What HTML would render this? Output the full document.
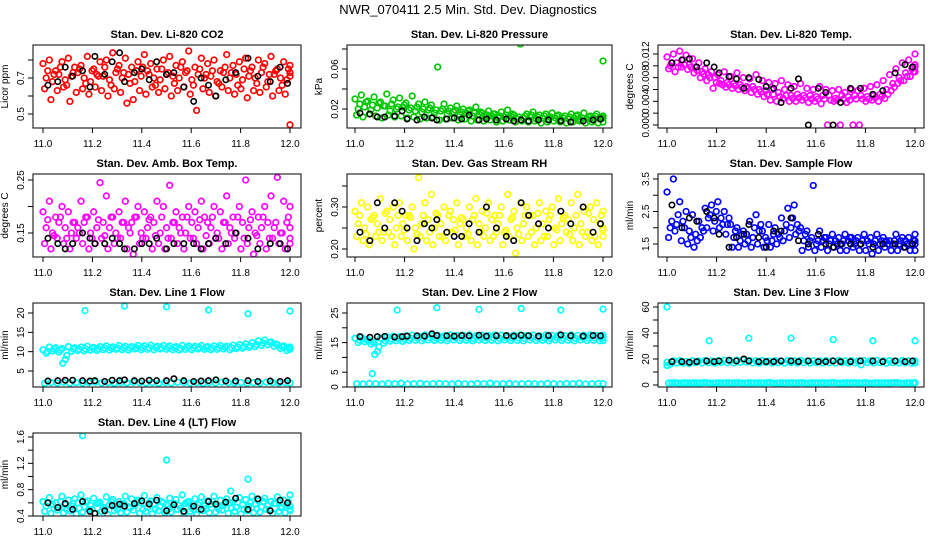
<!DOCTYPE html>
<html><head><meta charset="utf-8"><style>
body{margin:0;background:#fff;}
svg{display:block;font-family:"Liberation Sans",Arial,sans-serif;}
</style></head><body>
<svg id="chart" width="936" height="540" viewBox="0 0 936 540">
<text x="468" y="14" text-anchor="middle" font-size="13">NWR_070411  2.5 Min. Std. Dev. Diagnostics</text>
</svg>
<script>
const blackX = [11.02,11.06,11.09,11.12,11.16,11.19,11.21,11.25,11.28,11.31,11.33,11.37,11.40,11.43,11.46,11.50,11.53,11.57,11.61,11.64,11.67,11.70,11.74,11.78,11.83,11.87,11.92,11.96,11.99];
const xTicks = [11.0,11.2,11.4,11.6,11.8,12.0];
const xTickLabels = ["11.0","11.2","11.4","11.6","11.8","12.0"];

// Panel 1 CO2
const co2A = [0.78,0.80,0.74,0.79,0.81,0.76,0.77,0.82,0.75,0.79,0.80,0.84,0.77,0.81,0.76,0.79,0.83,0.78,0.75,0.80,0.82,0.77,0.79,0.85,0.76,0.81,0.78,0.80,0.74,0.83,0.77,0.79,0.81,0.76,0.80,0.78,0.82,0.75,0.79,0.77];
const co2B = [0.70,0.68,0.72,0.69,0.71,0.73,0.70,0.68,0.72,0.71,0.69,0.73,0.70,0.72,0.68,0.71,0.74,0.70,0.69,0.72,0.71,0.70,0.73,0.69,0.72,0.70,0.71,0.68,0.73,0.70,0.72,0.69,0.71,0.70,0.73,0.68,0.72,0.70,0.69,0.71];
const co2C = [0.64,0.58,0.63,0.65,0.57,0.62,0.64,0.61,0.65,0.63,0.60,0.64,0.62,0.56,0.58,0.63,0.61,0.65,0.62,0.64,0.60,0.63,0.65,0.61,0.52,0.64,0.62,0.60,0.65,0.63,0.61,0.64,0.59,0.63,0.62,0.65,0.60,0.63,0.61,0.44];
const co2D = [0.74,0.72,0.76,0.66,0.73,0.75,0.67,0.74,0.71,0.76,0.66,0.75,0.73,0.67,0.74,0.76,0.72,0.66,0.75,0.73,0.67,0.76,0.74,0.66,0.75,0.72,0.74,0.67,0.76,0.73,0.66,0.75,0.74,0.67,0.76,0.72,0.74,0.66,0.75,0.73];
const co2K = [0.66,0.68,0.76,0.71,0.74,0.65,0.82,0.72,0.79,0.84,0.68,0.73,0.75,0.69,0.79,0.72,0.73,0.65,0.57,0.70,0.66,0.60,0.69,0.73,0.81,0.71,0.68,0.76,0.67];
// Panel 2 Pressure
const presA = [0.030,0.034,0.028,0.032,0.027,0.035,0.029,0.031,0.026,0.033,0.025,0.027,0.024,0.062,0.025,0.021,0.023,0.020,0.019,0.022,0.016,0.018,0.015,0.017,0.019,0.014,0.085,0.015,0.017,0.014,0.015,0.016,0.014,0.013,0.015,0.014,0.016,0.013,0.015,0.068];
const presB = [0.020,0.022,0.019,0.021,0.023,0.018,0.020,0.022,0.019,0.018,0.017,0.019,0.016,0.018,0.015,0.017,0.014,0.016,0.013,0.015,0.012,0.013,0.011,0.012,0.013,0.010,0.011,0.012,0.010,0.011,0.010,0.011,0.009,0.010,0.011,0.009,0.010,0.011,0.010,0.011];
const presC = [0.014,0.012,0.015,0.013,0.011,0.014,0.012,0.013,0.011,0.012,0.010,0.011,0.012,0.009,0.010,0.011,0.009,0.010,0.008,0.009,0.008,0.009,0.007,0.008,0.009,0.007,0.008,0.007,0.008,0.006,0.007,0.008,0.007,0.006,0.007,0.008,0.006,0.007,0.006,0.007];
const presD = [0.025,0.027,0.024,0.026,0.023,0.025,0.022,0.024,0.021,0.022,0.020,0.021,0.019,0.020,0.018,0.019,0.017,0.018,0.016,0.017,0.014,0.015,0.013,0.014,0.015,0.012,0.013,0.014,0.012,0.013,0.012,0.013,0.011,0.012,0.013,0.011,0.012,0.013,0.012,0.013];
const presK = [0.016,0.015,0.012,0.012,0.013,0.018,0.010,0.009,0.012,0.011,0.009,0.010,0.011,0.010,0.014,0.009,0.010,0.009,0.010,0.008,0.009,0.008,0.009,0.009,0.008,0.007,0.008,0.009,0.010];
// Panel 3 Li-820 Temp
const ltA = [0.0115,0.012,0.0125,0.0118,0.0112,0.0105,0.0095,0.009,0.0085,0.009,0.0082,0.0088,0.008,0.0078,0.0085,0.0075,0.0072,0.007,0.0075,0.0068,0.0065,0.007,0.0062,0.006,0.0065,0.006,0.0058,0.006,0.0055,0.006,0.0058,0.0062,0.0065,0.0068,0.0075,0.0085,0.0095,0.0105,0.011,0.012];
const ltB = [0.010,0.0105,0.011,0.0102,0.0098,0.009,0.0085,0.008,0.0075,0.0072,0.007,0.0068,0.0065,0.0065,0.006,0.0058,0.006,0.0055,0.006,0.005,0.0052,0.005,0.005,0.0048,0.005,0.005,0.0045,0.005,0.0048,0.005,0.005,0.0048,0.005,0.0052,0.006,0.007,0.008,0.0088,0.0095,0.0102];
const ltC = [0.0095,0.009,0.0098,0.0094,0.0088,0.008,0.0075,0.0062,0.007,0.0064,0.0062,0.006,0.0058,0.0055,0.0052,0.0048,0.0042,0.004,0.0045,0.004,0.004,0.0042,0.0038,0.004,0.0036,0.0,0.004,0.0,0.0038,0.0,0.0,0.004,0.0042,0.004,0.0045,0.0058,0.007,0.0075,0.0082,0.009];
const ltD = [0.0105,0.0098,0.0102,0.0098,0.0092,0.0086,0.008,0.0072,0.0068,0.0068,0.0066,0.0064,0.0062,0.006,0.0056,0.0052,0.0052,0.0048,0.005,0.0045,0.0046,0.0046,0.0044,0.0044,0.0044,0.0042,0.0042,0.0044,0.0042,0.0044,0.0044,0.0044,0.0046,0.0048,0.0052,0.0064,0.0075,0.0082,0.009,0.0098];
const ltK = [0.0105,0.011,0.0112,0.0098,0.0105,0.0098,0.0088,0.0082,0.0078,0.0062,0.0080,0.0077,0.0065,0.0062,0.0038,0.0062,0.0078,0.0,0.0062,0.0055,0.0,0.0038,0.0062,0.0062,0.0052,0.0058,0.0088,0.0102,0.0098];
// Panel 4 Amb Box Temp
const abA = [0.19,0.21,0.18,0.20,0.19,0.17,0.21,0.18,0.19,0.245,0.22,0.18,0.19,0.21,0.17,0.20,0.19,0.18,0.21,0.20,0.24,0.19,0.18,0.20,0.19,0.21,0.17,0.20,0.19,0.22,0.18,0.20,0.25,0.19,0.18,0.20,0.22,0.255,0.21,0.20];
const abB = [0.16,0.15,0.17,0.16,0.15,0.16,0.17,0.15,0.16,0.17,0.16,0.15,0.17,0.16,0.18,0.15,0.16,0.17,0.15,0.16,0.17,0.16,0.15,0.17,0.16,0.18,0.16,0.15,0.17,0.16,0.15,0.17,0.16,0.15,0.16,0.17,0.16,0.15,0.17,0.16];
const abC = [0.13,0.12,0.14,0.13,0.12,0.14,0.13,0.12,0.13,0.14,0.12,0.13,0.14,0.12,0.11,0.13,0.14,0.12,0.13,0.12,0.14,0.13,0.12,0.14,0.13,0.12,0.13,0.14,0.12,0.13,0.14,0.12,0.13,0.11,0.13,0.12,0.14,0.13,0.12,0.13];
const abD = [0.175,0.145,0.18,0.14,0.17,0.15,0.18,0.14,0.175,0.145,0.18,0.14,0.17,0.15,0.18,0.14,0.175,0.145,0.18,0.14,0.17,0.15,0.18,0.14,0.175,0.145,0.18,0.14,0.17,0.15,0.18,0.14,0.175,0.145,0.18,0.14,0.17,0.15,0.18,0.14];
const abK = [0.14,0.13,0.12,0.13,0.15,0.14,0.13,0.13,0.14,0.13,0.12,0.12,0.13,0.13,0.14,0.12,0.13,0.13,0.13,0.12,0.13,0.14,0.13,0.15,0.14,0.12,0.13,0.13,0.12];
// Panel 5 RH
const rhA = [0.29,0.31,0.30,0.28,0.32,0.29,0.30,0.31,0.28,0.30,0.37,0.31,0.33,0.28,0.30,0.29,0.31,0.27,0.30,0.32,0.29,0.31,0.28,0.30,0.33,0.29,0.31,0.30,0.28,0.31,0.29,0.30,0.32,0.28,0.31,0.33,0.29,0.30,0.31,0.29];
const rhB = [0.26,0.25,0.27,0.26,0.24,0.27,0.25,0.26,0.28,0.25,0.26,0.27,0.25,0.26,0.24,0.27,0.26,0.25,0.27,0.26,0.25,0.27,0.26,0.24,0.27,0.25,0.26,0.28,0.25,0.26,0.27,0.25,0.26,0.27,0.25,0.26,0.24,0.27,0.26,0.25];
const rhC = [0.23,0.22,0.21,0.23,0.22,0.24,0.21,0.23,0.22,0.20,0.23,0.22,0.21,0.23,0.22,0.24,0.21,0.23,0.22,0.21,0.23,0.22,0.24,0.21,0.23,0.19,0.22,0.23,0.21,0.22,0.23,0.21,0.22,0.24,0.22,0.21,0.23,0.22,0.21,0.23];
const rhD = [0.28,0.235,0.275,0.24,0.285,0.23,0.28,0.245,0.275,0.235,0.28,0.24,0.285,0.23,0.28,0.245,0.275,0.235,0.28,0.24,0.285,0.23,0.28,0.245,0.275,0.235,0.28,0.24,0.285,0.23,0.28,0.245,0.275,0.235,0.28,0.24,0.285,0.23,0.28,0.245];
const rhK = [0.24,0.22,0.31,0.25,0.31,0.29,0.25,0.22,0.26,0.25,0.27,0.24,0.23,0.23,0.26,0.24,0.30,0.25,0.23,0.22,0.31,0.28,0.26,0.25,0.29,0.26,0.30,0.24,0.26];
// Panel 6 Sample Flow
const sfA = [3.1,3.5,2.8,2.5,2.4,2.2,2.6,2.7,2.8,2.5,2.1,2.0,1.9,2.2,2.4,1.9,2.1,2.0,2.3,2.6,2.7,2.0,1.9,3.3,1.9,1.7,1.8,1.7,1.8,1.7,1.7,1.8,1.7,1.8,1.7,1.6,1.8,1.7,1.7,1.8];
const sfB = [2.0,2.1,2.2,1.9,1.8,2.0,2.3,2.2,2.3,2.1,1.7,1.6,1.8,1.7,1.9,1.7,1.6,1.8,1.9,2.0,2.1,1.6,1.6,1.5,1.6,1.5,1.6,1.5,1.6,1.5,1.5,1.6,1.5,1.5,1.6,1.5,1.5,1.6,1.5,1.5];
const sfC = [1.7,1.9,1.6,1.5,1.4,1.7,2.0,1.9,2.0,1.8,1.4,1.4,1.5,1.4,1.5,1.4,1.4,1.5,1.6,1.7,1.8,1.3,1.4,1.3,1.4,1.3,1.4,1.3,1.3,1.4,1.3,1.3,1.2,1.3,1.4,1.3,1.3,1.4,1.3,1.3];
const sfD = [2.2,2.4,2.0,1.7,1.6,1.9,2.4,2.5,2.1,2.3,1.9,1.8,1.6,2.0,2.1,1.6,1.8,1.7,2.1,2.3,1.9,1.8,1.7,1.6,1.7,1.6,1.5,1.6,1.7,1.6,1.6,1.5,1.6,1.6,1.5,1.6,1.6,1.5,1.6,1.6];
const sfK = [2.7,2.0,2.3,2.2,2.5,2.3,1.8,1.4,1.7,1.8,2.1,1.7,1.4,1.9,1.9,2.3,1.6,1.5,1.8,1.5,1.4,1.5,1.5,1.5,1.4,1.5,1.5,1.4,1.5];
// Panel 7 Line 1 Flow
const l1A = [10.5,11.2,11.0,10.8,11.3,11.0,11.2,11.4,11.1,11.3,11.5,11.2,11.6,11.4,11.3,11.6,11.5,11.7,11.4,11.6,11.5,11.3,11.6,11.5,11.4,11.6,11.3,11.5,11.6,11.4,11.7,11.8,12.0,12.3,12.8,13.0,12.5,11.8,11.5,11.2];
const l1B = [9.6,10.2,9.9,8.0,10.1,10.3,10.2,10.4,10.3,10.5,10.4,10.6,10.5,10.4,10.7,10.5,10.6,10.5,10.7,10.6,10.5,10.4,10.6,10.5,10.7,10.6,10.5,10.6,10.7,10.5,10.8,10.9,11.1,11.3,11.6,11.8,11.4,10.8,10.3,10.6];
const l1C = [1.8,2.0,1.9,2.1,1.8,2.0,1.9,2.0,2.1,1.9,2.0,1.8,2.0,1.9,2.1,2.0,1.9,2.0,1.8,2.0,1.9,2.1,2.0,1.9,2.0,1.8,2.0,1.9,2.1,2.0,1.9,2.0,1.8,2.0,1.9,2.1,2.0,1.9,2.0,1.9];
const l1D = [10.0,10.7,10.4,9.0,10.7,10.6,10.7,10.9,10.7,10.9,10.9,10.9,11.0,10.9,11.0,11.0,11.0,11.1,11.0,11.1,11.0,10.8,11.1,11.0,11.0,11.1,10.9,11.0,11.1,11.0,11.2,11.3,11.5,11.8,12.2,12.4,12.0,11.3,10.9,10.9];
const l1K = [2.4,2.5,2.6,2.6,2.5,2.4,2.5,2.3,2.6,2.5,2.7,2.5,2.4,2.6,2.5,2.5,3.0,2.5,2.3,2.4,2.5,2.7,2.4,2.4,2.5,2.3,2.4,2.3,2.5];
const l1OutX = [11.08,11.17,11.33,11.5,11.67,11.83,12.0];
const l1OutY = [7.0,20.6,21.8,21.6,20.8,19.8,20.5];
// Panel 8 Line 2 Flow
const l2A = [16.5,16.8,16.0,15.0,16.5,17.0,17.2,17.0,17.3,17.5,17.2,17.6,17.4,17.5,17.3,17.6,17.4,17.5,17.6,17.3,17.5,17.4,17.6,17.5,17.3,17.5,17.6,17.4,17.5,17.3,17.6,17.4,17.5,17.3,17.6,17.4,17.5,17.6,17.4,17.5];
const l2B = [15.0,15.3,14.5,12.0,14.8,15.5,15.6,15.4,15.7,15.8,15.6,15.9,15.7,15.8,15.6,15.9,15.7,15.8,15.6,15.9,15.7,15.8,15.6,15.9,15.7,15.8,15.6,15.9,15.7,15.8,15.6,15.9,15.7,15.8,15.6,15.9,15.7,15.8,15.6,15.7];
const l2C = [1.1,1.0,1.2,1.1,1.0,1.2,1.1,1.3,1.0,1.1,1.2,1.0,1.1,1.2,1.1,1.0,1.2,1.1,1.0,1.2,1.1,1.3,1.0,1.1,1.2,1.0,1.1,1.2,1.1,1.0,1.2,1.1,1.0,1.2,1.1,1.3,1.0,1.1,1.2,1.1];
const l2D = [15.8,16.0,15.2,13.5,15.6,16.2,16.4,16.2,16.5,16.6,16.4,16.7,16.5,16.6,16.4,16.7,16.5,16.6,16.4,16.7,16.5,16.6,16.4,16.7,16.5,16.6,16.4,16.7,16.5,16.6,16.4,16.7,16.5,16.6,16.4,16.7,16.5,16.6,16.4,16.6];
const l2K = [17.0,16.8,17.0,17.1,16.9,17.0,17.2,17.3,17.2,18.0,17.4,17.3,17.2,17.4,17.3,17.5,17.2,17.3,17.4,17.2,17.5,17.3,17.2,17.4,17.6,17.3,17.2,17.4,17.3];
const l2OutX = [11.07,11.08,11.17,11.33,11.5,11.67,11.83,12.0];
const l2OutY = [4.5,11.0,26.0,26.8,26.2,26.5,26.0,26.3];
// Panel 9 Line 3 Flow
const l3A = [17.5,18.5,18.8,18.2,18.6,18.4,18.9,18.5,18.7,19.0,18.6,19.2,19.5,18.8,18.6,18.9,18.5,18.7,18.4,18.8,18.6,18.9,18.5,18.7,18.4,18.8,18.6,18.9,18.5,18.7,18.4,18.8,18.6,18.9,18.5,18.7,18.4,18.8,18.6,18.5];
const l3B = [16.0,17.0,16.8,16.5,17.2,16.9,17.1,16.8,17.3,17.0,16.9,17.4,17.6,17.0,16.8,17.2,16.9,17.1,16.8,17.2,16.9,17.1,16.8,17.2,16.9,17.1,16.8,17.2,16.9,17.1,15.5,17.2,16.9,17.1,16.8,17.2,16.9,17.1,16.8,17.0];
const l3C = [1.5,1.8,1.4,1.6,1.7,1.5,1.8,1.4,1.6,1.7,1.5,1.8,1.4,1.6,1.7,1.5,1.8,1.4,1.6,1.7,1.5,1.8,1.4,1.6,1.7,1.5,1.8,1.4,1.6,1.7,1.5,1.8,1.4,1.6,1.7,1.5,1.8,1.4,1.6,1.7];
const l3D = [1.6,1.4,1.7,1.5,1.6,1.8,1.4,1.6,1.5,1.7,1.6,1.4,1.7,1.5,1.6,1.8,1.4,1.6,1.5,1.7,1.6,1.4,1.7,1.5,1.6,1.8,1.4,1.6,1.5,1.7,1.6,1.4,1.7,1.5,1.6,1.8,1.4,1.6,1.5,1.7];
const l3K = [18,18,17.5,18,18.5,18,18.5,19,18.5,20,18.5,18,18,18,18.5,18.5,18,18.5,18,18,18.5,18,18,18.5,18.5,18,18.5,18,18.5];
const l3OutX = [11.0,11.0,11.17,11.33,11.5,11.67,11.83,12.0];
const l3OutY = [60,15,34,36,36,35,34,34];
// Panel 10 Line 4 (LT) Flow
const l4A = [0.62,0.68,0.60,0.70,0.64,0.66,0.72,0.63,0.67,0.61,0.69,0.65,0.62,0.70,0.66,0.64,0.71,0.63,0.68,0.60,0.67,0.65,0.72,0.62,0.66,0.69,0.63,0.70,0.64,0.66,0.61,0.68,0.65,0.70,0.63,0.67,0.62,0.69,0.64,0.72];
const l4B = [0.55,0.58,0.53,0.57,0.55,0.60,0.54,0.56,0.59,0.53,0.57,0.55,0.58,0.54,0.56,0.60,0.53,0.57,0.55,0.58,0.54,0.56,0.59,0.53,0.57,0.55,0.58,0.54,0.56,0.60,0.53,0.57,0.55,0.58,0.54,0.56,0.59,0.53,0.57,0.55];
const l4C = [0.47,0.44,0.49,0.45,0.48,0.43,0.46,0.50,0.44,0.47,0.42,0.48,0.45,0.46,0.49,0.44,0.47,0.43,0.48,0.45,0.46,0.50,0.44,0.47,0.42,0.48,0.45,0.46,0.49,0.44,0.47,0.43,0.48,0.45,0.46,0.50,0.44,0.47,0.45,0.48];
const l4D = [0.60,0.51,0.62,0.50,0.59,0.52,0.61,0.50,0.60,0.51,0.62,0.50,0.59,0.52,0.61,0.50,0.60,0.51,0.62,0.50,0.59,0.52,0.61,0.50,0.60,0.51,0.62,0.50,0.59,0.52,0.61,0.50,0.60,0.51,0.62,0.50,0.59,0.52,0.61,0.50];
const l4K = [0.60,0.53,0.59,0.50,0.62,0.47,0.44,0.48,0.56,0.58,0.55,0.59,0.63,0.58,0.64,0.48,0.57,0.47,0.55,0.50,0.62,0.58,0.61,0.67,0.50,0.66,0.48,0.64,0.60];
const l4OutX = [11.16,11.5,11.76,11.83];
const l4OutY = [1.62,1.25,0.78,0.96];

const NS = "http://www.w3.org/2000/svg";
const svg = document.getElementById('chart');
const colL=[33,347,658], colR=[301,612,924], colX0=[43,355,667], colX1=[290,603,915];
const rowT=[45,174,303,433], rowB=[128,257,387,516];

function mk(tag, attrs, parent){
  const e=document.createElementNS(NS,tag);
  for(const k in attrs) e.setAttribute(k,attrs[k]);
  (parent||svg).appendChild(e); return e;
}

const panels = [
 {t:"Stan. Dev. Li-820 CO2",yl:"Licor ppm",c:"#ff0000",r:0,col:0,v0:0.5,p0:114,v1:0.7,p1:78,ticks:[0.5,0.6,0.7,0.8],labs:{"0.5":"0.5","0.7":"0.7"},s:[co2A,co2B,co2C,co2D],k:co2K},
 {t:"Stan. Dev. Li-820 Pressure",yl:"kPa",c:"#00c800",r:0,col:1,v0:0.02,p0:109,v1:0.06,p1:69,ticks:[0.02,0.04,0.06,0.08],labs:{"0.02":"0.02","0.06":"0.06"},s:[presA,presB,presC,presD],k:presK},
 {t:"Stan. Dev. Li-820 Temp.",yl:"degrees C",c:"#ff00ff",r:0,col:2,v0:0,p0:125,v1:0.012,p1:54,ticks:[0,0.002,0.004,0.006,0.008,0.01,0.012],labs:{"0":"0.000","0.004":"0.004","0.008":"0.008","0.012":"0.012"},s:[ltA,ltB,ltC,ltD],k:ltK},
 {t:"Stan. Dev. Amb. Box Temp.",yl:"degrees C",c:"#ff00ff",r:1,col:0,v0:0.15,p0:233,v1:0.25,p1:180,ticks:[0.15,0.2,0.25],labs:{"0.15":"0.15","0.25":"0.25"},s:[abA,abB,abC,abD],k:abK},
 {t:"Stan. Dev. Gas Stream RH",yl:"percent",c:"#ffff00",r:1,col:1,v0:0.2,p0:249,v1:0.3,p1:207,ticks:[0.2,0.25,0.3,0.35],labs:{"0.2":"0.20","0.3":"0.30"},s:[rhA,rhB,rhC,rhD],k:rhK},
 {t:"Stan. Dev. Sample Flow",yl:"ml/min",c:"#0000ff",r:1,col:2,v0:1.5,p0:244,v1:3.5,p1:179,ticks:[1.5,2,2.5,3,3.5],labs:{"1.5":"1.5","2.5":"2.5","3.5":"3.5"},s:[sfA,sfB,sfC,sfD],k:sfK},
 {t:"Stan. Dev. Line 1 Flow",yl:"ml/min",c:"#00ffff",r:2,col:0,v0:5,p0:371,v1:20,p1:313,ticks:[5,10,15,20],labs:{"5":"5","10":"10","15":"15","20":"20"},s:[l1A,l1B,l1C,l1D],k:l1K,ox:l1OutX,oy:l1OutY},
 {t:"Stan. Dev. Line 2 Flow",yl:"ml/min",c:"#00ffff",r:2,col:1,v0:0,p0:387,v1:25,p1:313,ticks:[0,5,10,15,20,25],labs:{"0":"0","5":"5","15":"15","25":"25"},s:[l2A,l2B,l2C,l2D],k:l2K,ox:l2OutX,oy:l2OutY},
 {t:"Stan. Dev. Line 3 Flow",yl:"ml/min",c:"#00ffff",r:2,col:2,v0:0,p0:385,v1:60,p1:307,ticks:[0,10,20,30,40,50,60],labs:{"0":"0","20":"20","40":"40","60":"60"},s:[l3A,l3B,l3C,l3D],k:l3K,ox:l3OutX,oy:l3OutY},
 {t:"Stan. Dev. Line 4 (LT) Flow",yl:"ml/min",c:"#00ffff",r:3,col:0,v0:0.4,p0:516,v1:1.6,p1:437,ticks:[0.4,0.6,0.8,1.0,1.2,1.4,1.6],labs:{"0.4":"0.4","0.8":"0.8","1.2":"1.2","1.6":"1.6"},s:[l4A,l4B,l4C,l4D],k:l4K,ox:l4OutX,oy:l4OutY}
];
const slug = s=>s.toLowerCase().replace(/[^a-z0-9]+/g,'-').replace(/^-|-$/g,'');
const offsets=[0,0.5,0.25,0.75];

panels.forEach(p=>{
  const L=colL[p.col],R=colR[p.col],T=rowT[p.r],B=rowB[p.r];
  const xs=v=>colX0[p.col]+(v-11)*(colX1[p.col]-colX0[p.col]);
  const ys=v=>p.p0+(v-p.v0)*(p.p1-p.p0)/(p.v1-p.v0);
  const g=mk('g',{});
  
  
  const clip='clip'+p.r+p.col;
  const cp=mk('clipPath',{id:clip},g); mk('rect',{x:L,y:T,width:R-L,height:B-T},cp);
  const pts=mk('g',{'clip-path':'url(#'+clip+')'},g);
  
  
  p.s.forEach((arr,si)=>{
    const n=arr.length, step=1/(n-1);
    arr.forEach((v,i)=>{
      const xv=Math.min(11+(i+offsets[si])*step,12);
      const c=mk('circle',{cx:xs(xv),cy:ys(v),r:2.8,fill:'none',stroke:p.c,'stroke-width':1.7},pts);
      
      
    });
  });
  if(p.ox) p.ox.forEach((xv,i)=>{
    const c=mk('circle',{cx:xs(xv),cy:ys(p.oy[i]),r:2.8,fill:'none',stroke:p.c,'stroke-width':1.7},pts);
    
    
  });
  p.k.forEach((v,i)=>{
    const c=mk('circle',{cx:xs(blackX[i]),cy:ys(v),r:2.7,fill:'none',stroke:'#000','stroke-width':1.6},pts);
    
    
  });
  const box=mk('rect',{x:L,y:T,width:R-L,height:B-T,fill:'none',stroke:'#000','stroke-width':1},g);
  
  
  const tt=mk('text',{x:(L+R)/2,y:T-7,'text-anchor':'middle','font-size':11,'font-weight':'bold'},g);
  tt.textContent=p.t;
  
  
  xTicks.forEach((v,i)=>{
    mk('line',{x1:xs(v),x2:xs(v),y1:B,y2:B+5,stroke:'#000'},g);
    const tx=mk('text',{x:xs(v),y:B+19,'text-anchor':'middle','font-size':10},g);
    tx.textContent=xTickLabels[i];
    
    
  });
  mk('line',{x1:L,x2:L,y1:ys(p.ticks[0]),y2:ys(p.ticks[p.ticks.length-1]),stroke:'#000'},g);
  p.ticks.forEach(v=>{
    const y=ys(v);
    mk('line',{x1:L-5,x2:L,y1:y,y2:y,stroke:'#000'},g);
    const key=String(v);
    if(p.labs[key]!==undefined){
      const ty=mk('text',{x:L-9,y:y,'text-anchor':'middle','font-size':10,transform:'rotate(-90 '+(L-9)+' '+y+')'},g);
      ty.textContent=p.labs[key];
      
      
    }
  });
  const yc=(T+B)/2, yx=L-25;
  const yl=mk('text',{x:yx,y:yc,'text-anchor':'middle','font-size':10,transform:'rotate(-90 '+yx+' '+yc+')'},g);
  yl.textContent=p.yl;
  
  
});
</script>
</body></html>
